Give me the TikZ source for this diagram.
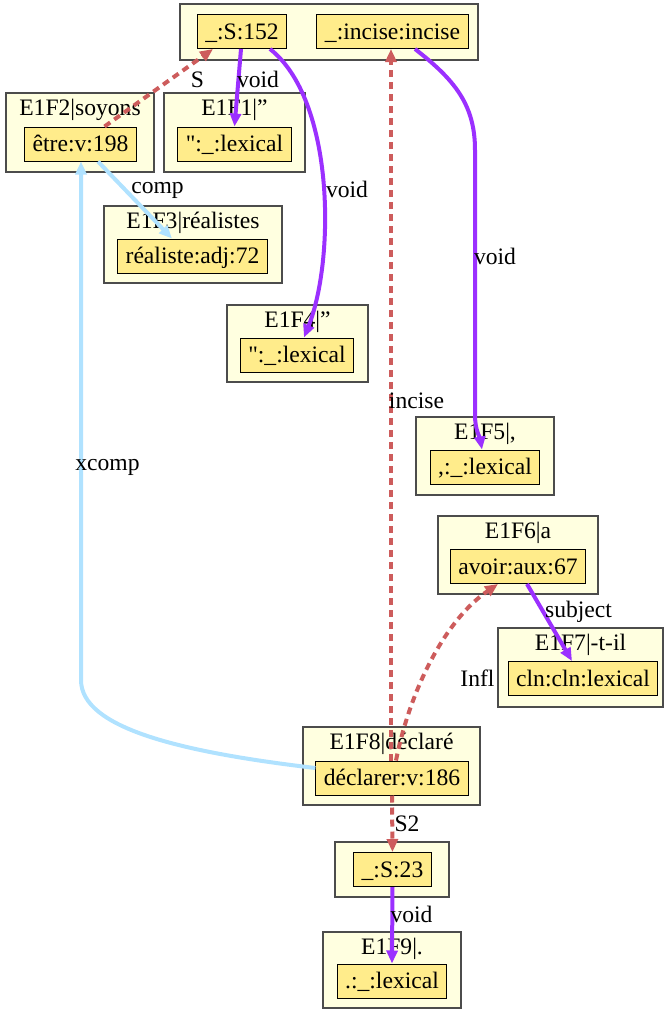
\documentclass[tikz,border=0pt]{standalone}
\usepackage{fontspec}
\setmainfont{Liberation Serif}[Ligatures=TeXOff]
\usetikzlibrary{arrows.meta}
\definecolor{clusterfill}{HTML}{FFFFE0}
\definecolor{wordfill}{HTML}{FFEC8B}
\definecolor{voidpurple}{HTML}{9B30FF}
\definecolor{deplink}{HTML}{CD5C5C}
\definecolor{compblue}{HTML}{B0E2FF}

\begin{document}
\begin{tikzpicture}[
    x=0.5pt, y=-0.5pt,
    font=\fontsize{11.8}{14}\selectfont,
    cluster box/.style={draw=black!70, fill=clusterfill, line width=0.6pt, inner sep=0pt},
    word box/.style={draw=black, fill=wordfill, line width=0.5pt, minimum height=17pt,
        inner xsep=4pt, inner ysep=0pt, text height=9pt, text depth=1.3pt},
    head label/.style={anchor=base, yshift=-11.5pt, inner sep=0pt},
    edge label/.style={anchor=base, inner sep=0pt},
    void line/.style={-{Triangle[length=6.5pt,width=5.5pt]}, draw=voidpurple, line width=2pt},
    dep line/.style={-{Triangle[length=6.5pt,width=5.5pt]}, draw=deplink, line width=2pt,
        dash pattern=on 3.5pt off 2.5pt},
    comp line/.style={-{Triangle[length=6.5pt,width=5.5pt]}, draw=compblue, line width=2pt},
]
\useasboundingbox (0,0) rectangle (665,1009);

\node[cluster box, minimum width=149pt, minimum height=28pt] (top) at (329,32) {};
\node[word box] (s152) at (242,31.5) {\_:S:152};
\node[word box] (incise) at (392.5,31.5) {\_:incise:incise};

\node[cluster box, minimum width=74pt, minimum height=39.5pt, label={[head label]north:E1F2|soyons}] (f2) at (80,132.5) {};
\node[word box] (etre) at (80.5,144) {être:v:198};

\node[cluster box, minimum width=70.5pt, minimum height=39.5pt, label={[head label]north:E1F1|”}] (f1) at (234.5,132.5) {};
\node[word box] (lex1) at (234.5,144) {":\_:lexical};

\node[cluster box, minimum width=89pt, minimum height=38.5pt, label={[head label]north:E1F3|réalistes}] (f3) at (193,244.5) {};
\node[word box] (real) at (192.5,256) {réaliste:adj:72};

\node[cluster box, minimum width=70.5pt, minimum height=38.5pt, label={[head label]north:E1F4|”}] (f4) at (297.5,343.5) {};
\node[word box] (lex4) at (297,355) {":\_:lexical};

\node[cluster box, minimum width=69pt, minimum height=39pt, label={[head label]north:E1F5|,}] (f5) at (485,456) {};
\node[word box] (lex5) at (485,467) {,:\_:lexical};

\node[cluster box, minimum width=80pt, minimum height=39pt, label={[head label]north:E1F6|a}] (f6) at (518,555) {};
\node[word box] (avoir) at (518,566.5) {avoir:aux:67};

\node[cluster box, minimum width=82.5pt, minimum height=39.5pt, label={[head label]north:E1F7|-t-il}] (f7) at (580.5,667.5) {};
\node[word box] (cln) at (583,678.5) {cln:cln:lexical};

\node[cluster box, minimum width=88.5pt, minimum height=39pt, label={[head label]north:E1F8|déclaré}] (f8) at (391.5,766) {};
\node[word box] (decl) at (392,778) {déclarer:v:186};

\node[cluster box, minimum width=57pt, minimum height=27.5pt] (g23) at (392,869.5) {};
\node[word box] (s23) at (392.5,869.5) {\_:S:23};

\node[cluster box, minimum width=69pt, minimum height=38pt, label={[head label]north:E1F9|.}] (f9) at (392,970) {};
\node[word box] (lex9) at (392,981) {.:\_:lexical};

\draw[comp line] ([xshift=8.75pt]etre.south) -- ([xshift=-10.25pt]real.north);
\draw[comp line] ([yshift=5pt]decl.west) .. controls (180,752) and (81,728) .. (81,680) -- ([xshift=0.25pt]etre.south);
\draw[dep line] ([xshift=12pt]etre.north) -- ([xshift=-14.5pt]s152.south);
\draw[void line] ([xshift=-0.5pt]s152.south) -- (lex1.north);
\draw[void line] ([xshift=14pt]s152.south) .. controls (335,100) and (335,260) .. ([xshift=3.5pt]lex4.north);
\draw[void line] ([xshift=11.25pt]incise.south) .. controls (455,80) and (475,105) .. (475,150) -- (475,415) .. controls (475,430) and (480,438) .. ([xshift=-1.5pt]lex5.north);
\draw[dep line] ([xshift=-0.5pt]decl.north) -- ([xshift=-0.75pt]incise.south);
\draw[dep line] ([xshift=2pt]decl.north) .. controls (410,690) and (445,620) .. ([xshift=-10pt]avoir.south);
\draw[void line] ([xshift=4.5pt]avoir.south) -- ([xshift=-5.5pt]cln.north);
\draw[dep line] (decl.south) -- (s23.north);
\draw[void line] (s23.south) -- (lex9.north);

\node[edge label] (lS) at (197.5,87) {S};
\node[edge label] (lvoida) at (258,87) {void};
\node[edge label] (lvoidb) at (347,197) {void};
\node[edge label] (lvoidc) at (495,264) {void};
\node[edge label] (lcomp) at (157.5,193) {comp};
\node[edge label] (lxcomp) at (107.5,470) {xcomp};
\node[edge label] (lincise) at (416.5,408) {incise};
\node[edge label] (lsubject) at (578.5,617) {subject};
\node[edge label] (linfl) at (477.5,686) {Infl};
\node[edge label] (lS2) at (407,831) {S2};
\node[edge label] (lvoidd) at (411.5,922) {void};
\end{tikzpicture}
\end{document}
